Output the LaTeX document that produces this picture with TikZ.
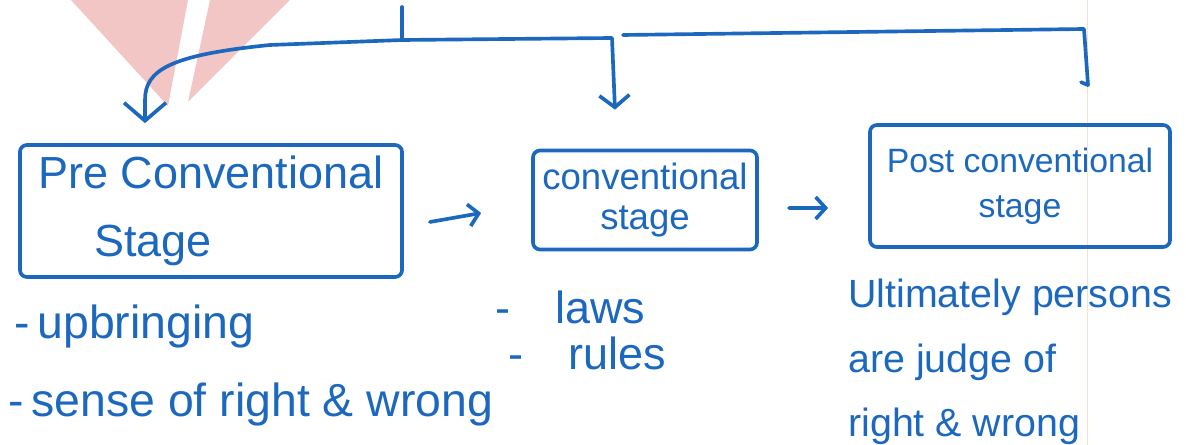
\documentclass[tikz,border=0pt]{standalone}
\usepackage{fontspec}
\setmainfont{Liberation Sans}
\usetikzlibrary{arrows.meta}
\usetikzlibrary{positioning}
\definecolor{inkblue}{RGB}{28,104,190}
\definecolor{logopink}{RGB}{243,198,198}
\definecolor{marginline}{RGB}{250,224,200}
\tikzset{ink/.style = {draw = inkblue, line width = 2.6pt, line cap = round, line join = round}}
\tikzset{stagebox/.style = {ink, rounded corners = 5pt, text = inkblue, align = center, inner sep = 0}}
\tikzset{note/.style = {text = inkblue, anchor = west, inner sep = 0, align = left}}
\tikzset{bigtip/.style = {-{Straight Barb[length = 0.45cm, width = 1.05cm]}}}
\tikzset{midtip/.style = {-{Straight Barb[length = 0.3cm, width = 0.75cm]}}}
\tikzset{sidetip/.style = {-{Straight Barb[length = 0.25cm, width = 0.55cm]}}}

\begin{document}
\begin{tikzpicture}[x = 0.025cm, y = -0.025cm]
  \useasboundingbox (0, 0) rectangle (1186, 445);

  % faint logo and margin line of the page
  \fill [logopink] (71, 0) -- (188, 0) -- (168, 106) -- cycle;
  \fill [logopink] (210, 0) -- (290, 0) -- (188, 102) -- cycle;
  \draw [marginline, line width = 0.6pt] (1087, 0) -- (1087, 445);

  % stages
  \node [stagebox, minimum width = 9.55cm, minimum height = 3.3cm, align = left,
         font = \fontsize{32}{48}\selectfont] (pre) at (211, 211)
        {Pre Conventional\\\hspace*{1.4cm}Stage};
  \node [stagebox, minimum width = 5.6cm, minimum height = 2.475cm,
         font = \fontsize{26}{28}\selectfont] (conv) at (645, 200)
        {conventional\\stage};
  \node [stagebox, minimum width = 7.5cm, minimum height = 3.05cm,
         font = \fontsize{24}{32}\selectfont] (post) at (1020, 186)
        {Post conventional\\stage};

  % branching from the top
  \coordinate (stub) at (402, 7);
  \coordinate (hub) at (402, 40);
  \coordinate (gap) at (623, 35);
  \coordinate (tipA) at ([xshift = -1.65cm, yshift = 0.5cm] pre.north);
  \coordinate (tipB) at ([xshift = -0.75cm, yshift = 0.975cm] conv.north);
  \coordinate (tipC) at ([xshift = 1.7cm, yshift = 0.95cm] post.north);

  \draw [ink] (stub) -- (hub);
  \draw [ink, bigtip] (hub) -- (270, 45) .. controls (170, 55) and (145, 70) .. (145, 100) -- (tipA);
  \draw [ink, midtip] (hub) -- (612, 38) -- (tipB);
  \draw [ink] (gap) -- (1084, 29) -- (tipC) -- ++(-7, -3);

  \draw [ink, sidetip] ([xshift = 0.65cm, yshift = -0.275cm] pre.east)
        -- ([xshift = -1.25cm, yshift = -0.325cm] conv.west);
  \draw [ink, sidetip] ([xshift = 0.75cm, yshift = -0.2cm] conv.east)
        -- ([xshift = -1cm, yshift = -0.55cm] post.west);

  % notes under the stages
  \node [note, font = \fontsize{33}{40}\selectfont] (upbr) at (14, 327) {-\,upbringing};
  \node [note, font = \fontsize{33}{40}\selectfont] (sense) at (8, 405) {-\,sense of right \& wrong};
  \node [note, font = \fontsize{32}{40}\selectfont] (laws) at (495, 307) {-\quad laws};
  \node [note, font = \fontsize{32}{40}\selectfont] (rules) at (508, 353) {-\quad rules};
  \node [note, font = \fontsize{28}{46}\selectfont] (judge) at (848, 362)
        {Ultimately persons\\are judge of\\right \& wrong};
\end{tikzpicture}
\end{document}
